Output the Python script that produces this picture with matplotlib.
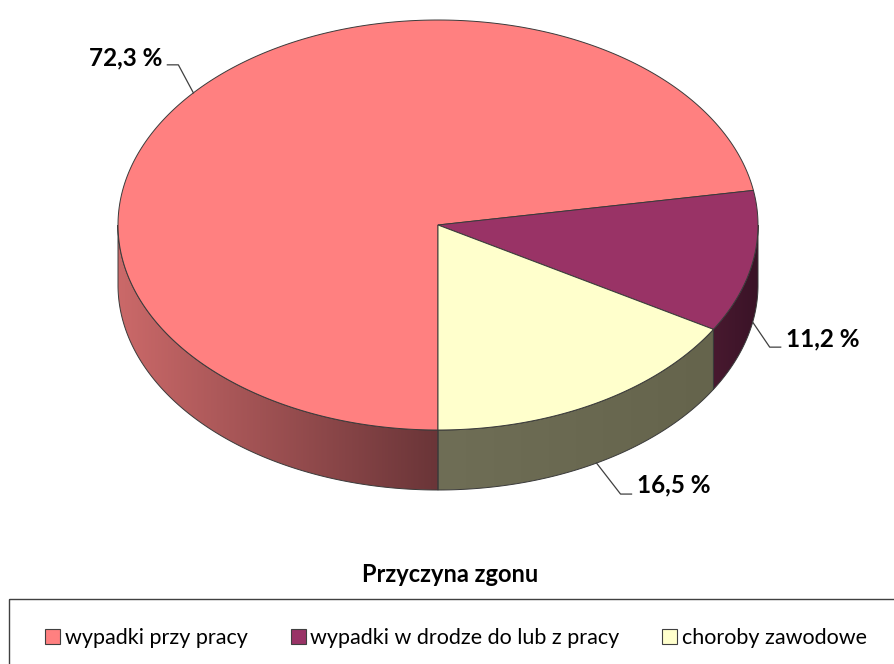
import matplotlib.pyplot as plt
import numpy as np
from matplotlib.patches import Polygon, Patch, Rectangle
from matplotlib.colors import to_rgb

# -------------------------
# Data
# -------------------------
categories = ['wypadki przy pracy', 'wypadki w drodze do lub z pracy', 'choroby zawodowe']
shares = [72.3, 11.2, 16.5]
title = 'Przyczyna zgonu'

top_colors = ['#FF8080', '#993366', '#FFFFCC']
side_colors = [('#CB6969', '#6A3538'), ('#48192F', '#3A1327'), ('#6F6E56', '#65644C')]

# -------------------------
# Geometry (pixel space)
# -------------------------
cx, cy = 438, 225
rx, ry = 320, 205
depth = 60
start = -90.0  # first slice starts at 6 o'clock, going clockwise

plt.rcParams['font.family'] = ['Lato', 'DejaVu Sans']

fig = plt.figure(figsize=(8.94, 6.64), dpi=100)
ax = fig.add_axes([0, 0, 1, 1])
ax.axis('off')


def pt(deg, dz=0):
    t = np.radians(deg)
    return cx + rx * np.cos(t), cy - ry * np.sin(t) + dz


cum = np.concatenate([[0], np.cumsum(shares)]) / 100 * 360
edge = '#3a3a3a'

# side walls (front half only), shaded left->right
for i in range(len(shares)):
    a, b = start - cum[i + 1], start - cum[i]
    for k in (-1, 0, 1):
        lo, hi = max(a, -180 + 360 * k), min(b, 360 * k)
        if hi <= lo:
            continue
        ts = np.linspace(lo, hi, 200)
        xs, ys = pt(ts)
        outline = list(zip(xs, ys)) + list(zip(xs[::-1], ys[::-1] + depth))
        poly = Polygon(outline, closed=True, fill=False, edgecolor=edge, lw=0.7)
        ax.add_patch(poly)
        xa, xb = xs.min(), xs.max()
        if i == 0:
            fx = np.clip((np.linspace(xa, xb, 256) - (cx - rx)) / rx, 0, 1)
        else:
            fx = np.linspace(0, 1, 256)
        c1, c2 = np.array(to_rgb(side_colors[i][0])), np.array(to_rgb(side_colors[i][1]))
        grad = (c1[None, :] + (c2 - c1)[None, :] * fx[:, None])[None, :, :]
        im = ax.imshow(grad, extent=[xa, xb, ys.max() + depth, ys.min()], aspect='auto',
                       interpolation='bilinear', zorder=0.5)
        im.set_clip_path(poly)

# top face
for i in range(len(shares)):
    a, b = start - cum[i + 1], start - cum[i]
    ts = np.linspace(a, b, 300)
    xs, ys = pt(ts)
    verts = [(cx, cy)] + list(zip(xs, ys))
    ax.add_patch(Polygon(verts, closed=True, facecolor=top_colors[i], edgecolor=edge, lw=0.7, zorder=2))

# data labels with leader lines
label_offsets = [((-15, -28), -11, 'right', -7), ((17, 25), 11, 'left', -8), ((24, 31), 11, 'left', -9)]
for i, v in enumerate(shares):
    mid = start - (cum[i] + cum[i + 1]) / 2
    dz = depth if np.sin(np.radians(mid)) < 0 else 0
    x0, y0 = pt(mid, dz)
    (dx, dy), hl, ha, ty = label_offsets[i]
    x1, y1 = x0 + dx, y0 + dy
    x2 = x1 + hl
    ax.plot([x0, x1, x2], [y0, y1, y1], color='#404040', lw=0.9, zorder=3)
    tx = x2 + (5 if ha == 'left' else -5)
    ax.text(tx, y1 + ty, f'{v:.1f} %'.replace('.', ','), ha=ha, va='center',
            fontsize=17.5, fontweight='bold', color='black')

# title and legend
ax.text(450, 574, title, ha='center', va='center', fontsize=17, fontweight='bold')
ax.add_patch(Rectangle((9, 599), 900, 80, fill=False, edgecolor='#404040', lw=1.0, clip_on=False))
handles = [Patch(facecolor=c, edgecolor='#404040', lw=0.8) for c in top_colors]
ax.legend(handles, categories, loc='center', bbox_to_anchor=(456, 638), bbox_transform=ax.transData,
          ncol=3, frameon=False, fontsize=15.5, handlelength=0.7, handleheight=0.7,
          handletextpad=0.2, columnspacing=2.0)

ax.set_xlim(0, 894)
ax.set_ylim(664, 0)

plt.savefig('out.png', dpi=100)
